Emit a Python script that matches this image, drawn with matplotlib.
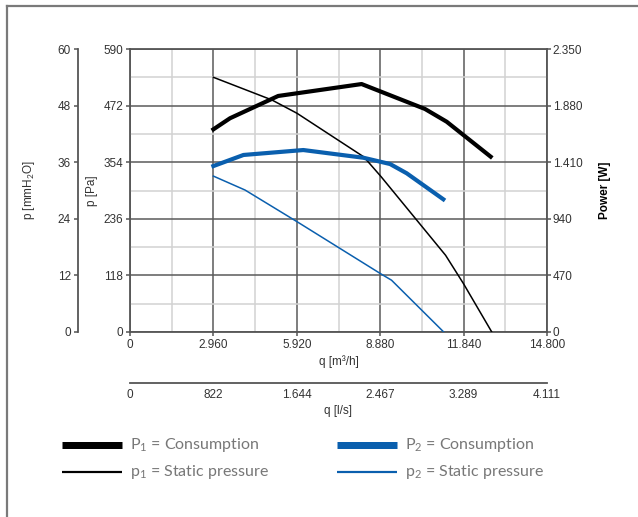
import matplotlib
matplotlib.use('Agg')
import matplotlib.pyplot as plt
from matplotlib.lines import Line2D

plt.rcParams['font.family'] = ['Liberation Sans', 'DejaVu Sans']
plt.rcParams['mathtext.fontset'] = 'custom'
plt.rcParams['mathtext.rm'] = 'Lato'

# axis ticks and labels
q_ticks = [0, 2960, 5920, 8880, 11840, 14800]
q_labels = ['0', '2.960', '5.920', '8.880', '11.840', '14.800']
ls_ticks = [0, 822, 1644, 2467, 3289, 4111]
ls_labels = ['0', '822', '1.644', '2.467', '3.289', '4.111']
pa_ticks = [0, 118, 236, 354, 472, 590]
mm_ticks = [0, 12, 24, 36, 48, 60]
w_ticks = [0, 470, 940, 1410, 1880, 2350]
w_labels = ['0', '470', '940', '1.410', '1.880', '2.350']

# P1 consumption [W]
q_P1 = [2960, 3550, 5260, 8220, 10470, 11240, 12800]
P1 = [1683, 1775, 1960, 2059, 1852, 1746, 1456]
# p1 static pressure [Pa]
q_p1 = [2960, 5027, 5927, 8300, 8909, 11200, 11834, 12840]
p1 = [531, 484, 456, 365, 324, 160, 101, 0]
# P2 consumption [W]
q_P2 = [2960, 4027, 6150, 8285, 9228, 9820, 11120]
P2 = [1378, 1470, 1511, 1447, 1395, 1318, 1102]
# p2 static pressure [Pa]
q_p2 = [2960, 4082, 5927, 8909, 9282, 11134]
p2 = [325, 296, 230, 121, 108, 0]

W, H = 638, 517
fig = plt.figure(figsize=(W / 100, H / 100), dpi=100)
x0, x1, y0, y1 = 130, 547, 49, 332
ax = fig.add_axes([x0 / W, 1 - y1 / H, (x1 - x0) / W, (y1 - y0) / H])

tickc = '#333333'
spc = '#555555'
blue = '#0a5fae'

ax.set_xlim(0, 14800)
ax.set_ylim(0, 590)
ax.set_xticks(q_ticks)
ax.set_xticklabels(q_labels)
ax.set_yticks(pa_ticks)
ax.set_xticks([1480 + 2960 * i for i in range(5)], minor=True)
ax.set_yticks([59 + 118 * i for i in range(5)], minor=True)
ax.grid(True, which='minor', color='#d2d2d2', lw=1.1)
ax.grid(True, which='major', color='#5a5a5a', lw=1.1)
ax.set_axisbelow(True)
ax.tick_params(which='minor', length=0)
ax.tick_params(which='major', length=3, width=1.1, color=spc, labelsize=8.5,
               labelcolor=tickc, pad=2)
for s in ax.spines.values():
    s.set_color(spc)
    s.set_linewidth(1.3)
ax.set_xlabel('q [m³/h]', fontsize=8.5, color=tickc, labelpad=3)
ax.set_ylabel('p [Pa]', fontsize=8.5, color=tickc)
ax.yaxis.set_label_coords(-32 / 417, 0.5)

ax.plot(q_p1, p1, color='black', lw=1.1, zorder=3)
ax.plot(q_p2, p2, color=blue, lw=1.1, zorder=3)

# power axis on the right
axw = ax.twinx()
axw.set_ylim(0, 2350)
axw.set_yticks(w_ticks)
axw.set_yticklabels(w_labels)
axw.tick_params(length=3, width=1.1, color=spc, labelsize=8.5, labelcolor=tickc, pad=1)
for s in axw.spines.values():
    s.set_visible(False)
axw.set_ylabel('Power [W]', fontsize=8.5, fontweight='bold', color='black')
axw.yaxis.set_label_coords(1 + 52 / 417, 0.5)
axw.plot(q_P1, P1, color='black', lw=3.0, zorder=3)
axw.plot(q_P2, P2, color=blue, lw=3.0, zorder=3)

# mmH2O axis, outer left
axm = ax.twinx()
axm.set_ylim(0, 60)
axm.yaxis.set_ticks_position('left')
axm.yaxis.set_label_position('left')
for k, s in axm.spines.items():
    s.set_visible(k == 'left')
axm.spines['left'].set_position(('axes', -52 / 417))
axm.spines['left'].set_color(spc)
axm.spines['left'].set_linewidth(1.3)
axm.set_yticks(mm_ticks)
axm.tick_params(length=3, width=1.1, color=spc, labelsize=8.5, labelcolor=tickc, pad=2)
axm.set_ylabel('p [mmH$_2$O]', fontsize=8.5, color=tickc)
axm.yaxis.set_label_coords(-93 / 417, 0.5)

# l/s axis below
axl = ax.twiny()
axl.set_xlim(0, 4111)
axl.xaxis.set_ticks_position('bottom')
axl.xaxis.set_label_position('bottom')
for k, s in axl.spines.items():
    s.set_visible(k == 'bottom')
axl.spines['bottom'].set_position(('axes', -51 / 283))
axl.spines['bottom'].set_color(spc)
axl.spines['bottom'].set_linewidth(1.3)
axl.set_xticks(ls_ticks)
axl.set_xticklabels(ls_labels)
axl.set_xticks([0, 4111], minor=True)
axl.tick_params(which='major', length=0, labelsize=8.5, labelcolor=tickc, pad=4)
axl.tick_params(which='minor', length=3, width=1.1, color=spc, direction='in')
axl.set_xlabel('q [l/s]', fontsize=8.5, color=tickc, labelpad=3)

# legend
legc = '#777777'
entries = [(62, 122, 445, 7, 'black', 'P$_1$ = Consumption'),
           (62, 122, 472, 2.2, 'black', 'p$_1$ = Static pressure'),
           (337, 397, 445, 7, blue, 'P$_2$ = Consumption'),
           (337, 397, 472, 2.2, blue, 'p$_2$ = Static pressure')]
for xa, xb, yy, lw, c, txt in entries:
    fig.add_artist(Line2D([xa / W, xb / W], [1 - yy / H, 1 - yy / H],
                          color=c, lw=lw * 0.72, solid_capstyle='butt'))
    fig.text((xb + 8) / W, 1 - yy / H, txt, fontsize=11.5, color=legc,
             family='Lato', va='center', ha='left')

# outer frame
fig.add_artist(Line2D([7 / W, 7 / W], [0, 1 - 6 / H], color='#7a7a7a', lw=1.6))
fig.add_artist(Line2D([7 / W, 1], [1 - 6 / H, 1 - 6 / H], color='#7a7a7a', lw=1.6))

fig.savefig('out.png', dpi=100)
